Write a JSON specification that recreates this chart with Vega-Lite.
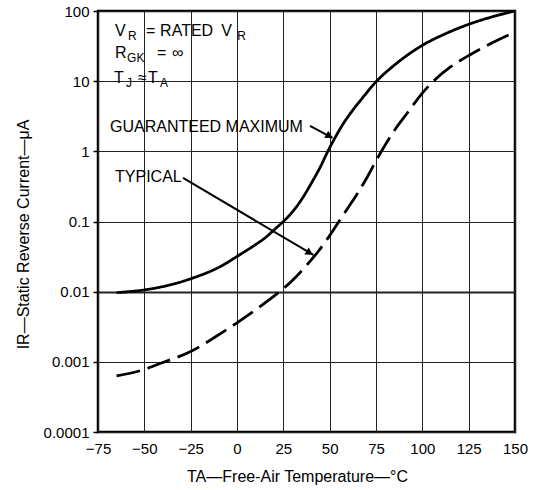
{
  "$schema": "https://vega.github.io/schema/vega-lite/v6.json",
  "width": 417,
  "height": 421,
  "autosize": {"type": "none"},
  "padding": {"left": 98, "top": 11, "right": 21, "bottom": 58},
  "background": "white",
  "config": {
    "view": {"stroke": "black", "strokeWidth": 2.5},
    "font": "Liberation Sans",
    "text": {"font": "Liberation Sans"}
  },
  "datasets": {
    "curves": [
      {"T": -65, "I": 0.0097, "series": "Guaranteed maximum"},
      {"T": -50, "I": 0.0106, "series": "Guaranteed maximum"},
      {"T": -35, "I": 0.0127, "series": "Guaranteed maximum"},
      {"T": -24, "I": 0.0156, "series": "Guaranteed maximum"},
      {"T": -9, "I": 0.0228, "series": "Guaranteed maximum"},
      {"T": 1, "I": 0.033, "series": "Guaranteed maximum"},
      {"T": 9, "I": 0.045, "series": "Guaranteed maximum"},
      {"T": 15, "I": 0.058, "series": "Guaranteed maximum"},
      {"T": 20, "I": 0.076, "series": "Guaranteed maximum"},
      {"T": 25, "I": 0.1, "series": "Guaranteed maximum"},
      {"T": 30, "I": 0.138, "series": "Guaranteed maximum"},
      {"T": 35, "I": 0.209, "series": "Guaranteed maximum"},
      {"T": 40, "I": 0.347, "series": "Guaranteed maximum"},
      {"T": 45, "I": 0.603, "series": "Guaranteed maximum"},
      {"T": 49, "I": 1.0, "series": "Guaranteed maximum"},
      {"T": 53, "I": 1.58, "series": "Guaranteed maximum"},
      {"T": 57, "I": 2.4, "series": "Guaranteed maximum"},
      {"T": 62, "I": 3.72, "series": "Guaranteed maximum"},
      {"T": 68, "I": 5.9, "series": "Guaranteed maximum"},
      {"T": 75, "I": 9.8, "series": "Guaranteed maximum"},
      {"T": 85, "I": 17, "series": "Guaranteed maximum"},
      {"T": 100, "I": 32.4, "series": "Guaranteed maximum"},
      {"T": 112, "I": 46.8, "series": "Guaranteed maximum"},
      {"T": 126, "I": 66, "series": "Guaranteed maximum"},
      {"T": 138, "I": 83, "series": "Guaranteed maximum"},
      {"T": 150, "I": 100, "series": "Guaranteed maximum"},
      {"T": -65, "I": 0.00063, "series": "Typical"},
      {"T": -50, "I": 0.00078, "series": "Typical"},
      {"T": -40, "I": 0.00098, "series": "Typical"},
      {"T": -25, "I": 0.0014, "series": "Typical"},
      {"T": -12, "I": 0.00224, "series": "Typical"},
      {"T": 0, "I": 0.0036, "series": "Typical"},
      {"T": 12, "I": 0.006, "series": "Typical"},
      {"T": 23, "I": 0.01, "series": "Typical"},
      {"T": 30, "I": 0.0145, "series": "Typical"},
      {"T": 37, "I": 0.0229, "series": "Typical"},
      {"T": 44, "I": 0.038, "series": "Typical"},
      {"T": 50, "I": 0.063, "series": "Typical"},
      {"T": 55, "I": 0.1, "series": "Typical"},
      {"T": 60, "I": 0.158, "series": "Typical"},
      {"T": 65, "I": 0.251, "series": "Typical"},
      {"T": 70, "I": 0.417, "series": "Typical"},
      {"T": 77, "I": 0.91, "series": "Typical"},
      {"T": 85, "I": 2.0, "series": "Typical"},
      {"T": 92, "I": 3.55, "series": "Typical"},
      {"T": 100, "I": 6.76, "series": "Typical"},
      {"T": 106, "I": 10, "series": "Typical"},
      {"T": 115, "I": 15.8, "series": "Typical"},
      {"T": 126, "I": 24, "series": "Typical"},
      {"T": 138, "I": 35.5, "series": "Typical"},
      {"T": 150, "I": 50, "series": "Typical"}
    ],
    "notes": [
      {"T": -65.8, "I": 44.1, "text": "V", "kind": "main"},
      {"T": -49.1, "I": 44.1, "text": "=", "kind": "main"},
      {"T": -41.5, "I": 44.1, "text": "RATED", "kind": "main"},
      {"T": -8.5, "I": 44.1, "text": "V", "kind": "main"},
      {"T": -65.8, "I": 21.4, "text": "R", "kind": "main"},
      {"T": -43.2, "I": 21.4, "text": "=", "kind": "main"},
      {"T": -35.1, "I": 21.4, "text": "∞", "kind": "main"},
      {"T": -66.4, "I": 9.42, "text": "T", "kind": "main"},
      {"T": -53.4, "I": 9.42, "text": "≈", "kind": "main"},
      {"T": -48.0, "I": 9.42, "text": "T", "kind": "main"},
      {"T": -68.5, "I": 1.89, "text": "GUARANTEED MAXIMUM", "kind": "main"},
      {"T": -65.8, "I": 0.366, "text": "TYPICAL", "kind": "main"},
      {"T": -58.8, "I": 38.6, "text": "R", "kind": "sub"},
      {"T": 0.1, "I": 38.6, "text": "R", "kind": "sub"},
      {"T": -59.3, "I": 18.7, "text": "GK", "kind": "sub"},
      {"T": -59.9, "I": 8.26, "text": "J", "kind": "sub"},
      {"T": -41.5, "I": 8.26, "text": "A", "kind": "sub"}
    ],
    "arrows": [
      {"T": 39.4, "I": 2.30, "T2": 51.5, "I2": 1.55, "arrow": "gm"},
      {"T": -29.1, "I": 0.418, "T2": 41.2, "I2": 0.0334, "arrow": "typ"}
    ],
    "heads": [
      {"T": 49.9, "I": 1.65, "arrow": "gm"},
      {"T": 39.2, "I": 0.0357, "arrow": "typ"}
    ]
  },
  "layer": [
    {
      "data": {"name": "curves"},
      "mark": {"type": "line", "color": "black", "strokeWidth": 2.8, "interpolate": "monotone", "clip": true},
      "encoding": {
        "x": {
          "field": "T", "type": "quantitative",
          "scale": {"domain": [-75, 150], "nice": false, "zero": false},
          "axis": {
            "values": [-75, -50, -25, 0, 25, 50, 75, 100, 125, 150],
            "title": "TA—Free-Air Temperature—°C",
            "grid": true, "gridColor": "#222", "gridWidth": 1, "gridOpacity": 1,
            "domain": false, "ticks": false, "tickSize": 0,
            "labelPadding": 9, "labelFontSize": 15, "labelColor": "black", "labelFont": "Liberation Sans",
            "labelFlush": false, "labelOverlap": false,
            "titleFontSize": 16, "titleFontWeight": "normal", "titleColor": "black", "titleFont": "Liberation Sans",
            "titlePadding": 12, "titleX": 199
          }
        },
        "y": {
          "field": "I", "type": "quantitative",
          "scale": {"type": "log", "domain": [0.0001, 100], "nice": false},
          "axis": {
            "values": [0.0001, 0.001, 0.01, 0.1, 1, 10, 100],
            "format": "~g",
            "title": "IR—Static Reverse Current—μA",
            "grid": true, "gridColor": "#222", "gridOpacity": 1,
            "gridWidth": {"condition": {"test": "abs(log(datum.value)/LN10 + 2) < 0.01", "value": 2}, "value": 1},
            "domain": false, "ticks": true, "tickSize": 5, "tickColor": "black", "tickWidth": 1.5,
            "labelPadding": 4, "labelFontSize": 15, "labelColor": "black", "labelFont": "Liberation Sans",
            "labelFlush": false, "labelOverlap": false,
            "titleFontSize": 16, "titleFontWeight": "normal", "titleColor": "black", "titleFont": "Liberation Sans",
            "titlePadding": 12, "titleY": 223
          }
        },
        "strokeDash": {
          "field": "series", "type": "nominal",
          "scale": {"domain": ["Guaranteed maximum", "Typical"], "range": [[1, 0], [24, 8]]},
          "legend": null
        },
        "detail": {"field": "series"}
      }
    },
    {
      "data": {"name": "arrows"},
      "mark": {"type": "rule", "color": "black", "strokeWidth": 2},
      "encoding": {
        "x": {"field": "T", "type": "quantitative"},
        "y": {"field": "I", "type": "quantitative"},
        "x2": {"field": "T2"},
        "y2": {"field": "I2"}
      }
    },
    {
      "data": {"name": "heads"},
      "transform": [{"filter": "datum.arrow === 'gm'"}],
      "mark": {"type": "point", "shape": "triangle-right", "filled": true, "color": "black", "opacity": 1, "size": 70, "angle": 28},
      "encoding": {
        "x": {"field": "T", "type": "quantitative"},
        "y": {"field": "I", "type": "quantitative"}
      }
    },
    {
      "data": {"name": "heads"},
      "transform": [{"filter": "datum.arrow === 'typ'"}],
      "mark": {"type": "point", "shape": "triangle-right", "filled": true, "color": "black", "opacity": 1, "size": 70, "angle": 31},
      "encoding": {
        "x": {"field": "T", "type": "quantitative"},
        "y": {"field": "I", "type": "quantitative"}
      }
    },
    {
      "data": {"name": "notes"},
      "transform": [{"filter": "datum.kind === 'main'"}],
      "mark": {"type": "text", "align": "left", "baseline": "alphabetic", "fontSize": 16, "color": "black", "font": "Liberation Sans"},
      "encoding": {
        "x": {"field": "T", "type": "quantitative"},
        "y": {"field": "I", "type": "quantitative"},
        "text": {"field": "text"}
      }
    },
    {
      "data": {"name": "notes"},
      "transform": [{"filter": "datum.kind === 'sub'"}],
      "mark": {"type": "text", "align": "left", "baseline": "alphabetic", "fontSize": 12, "color": "black", "font": "Liberation Sans"},
      "encoding": {
        "x": {"field": "T", "type": "quantitative"},
        "y": {"field": "I", "type": "quantitative"},
        "text": {"field": "text"}
      }
    }
  ]
}
